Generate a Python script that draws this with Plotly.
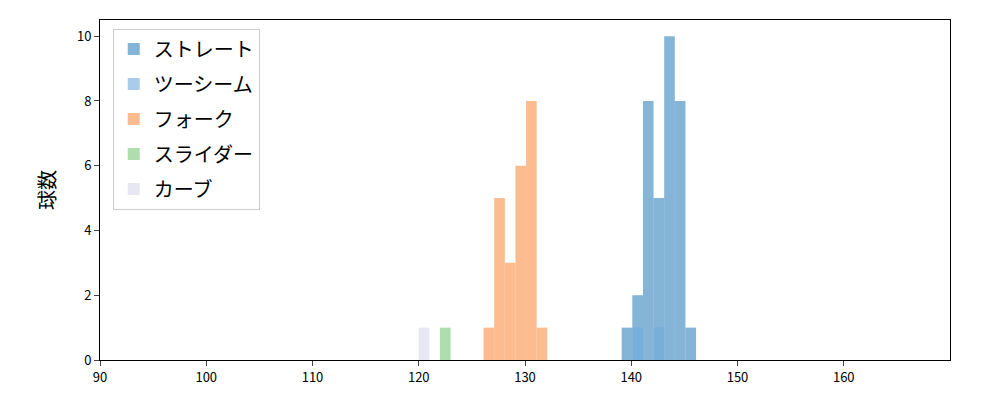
import plotly.graph_objects as go

# bin left edges and counts per pitch type
straight_x = [139.1, 140.1, 141.1, 142.1, 143.1, 144.1, 145.1]
straight_y = [1, 2, 8, 5, 10, 8, 1]
twoseam_x = [140.1, 142.1]
twoseam_y = [1, 1]
fork_x = [126.1, 127.1, 128.1, 129.1, 130.1, 131.1]
fork_y = [1, 5, 3, 6, 8, 1]
slider_x = [122.0]
slider_y = [1]
curve_x = [120.0]
curve_y = [1]

series = [
    ("ストレート", straight_x, straight_y, "rgba(31,119,180,0.55)"),
    ("ツーシーム", twoseam_x, twoseam_y, "rgba(110,170,220,0.6)"),
    ("フォーク", fork_x, fork_y, "rgba(252,160,95,0.7)"),
    ("スライダー", slider_x, slider_y, "rgba(120,200,120,0.6)"),
    ("カーブ", curve_x, curve_y, "rgba(215,215,235,0.6)"),
]

fig = go.Figure()
for name, xs, ys, col in series:
    fig.add_trace(go.Bar(
        x=[v + 0.5 for v in xs], y=ys, width=1.0, name=name, legendgroup=name,
        marker=dict(color=col, line=dict(width=0)),
    ))

fig.update_layout(
    width=1000, height=400,
    barmode="overlay",
    plot_bgcolor="white", paper_bgcolor="white",
    margin=dict(l=92, r=58, t=12, b=48),
    font=dict(family="Noto Sans CJK JP, DejaVu Sans", color="black"),
    legend=dict(
        x=0.015, y=0.975, xanchor="left", yanchor="top",
        bordercolor="#cccccc", borderwidth=1, bgcolor="white",
        font=dict(size=20), traceorder="grouped", tracegroupgap=6,
    ),
    xaxis=dict(
        range=[90, 170], tickvals=[90, 100, 110, 120, 130, 140, 150, 160],
        showgrid=False, zeroline=False, showline=True, linecolor="black",
        mirror=True, ticks="outside", ticklen=5, tickfont=dict(size=13),
    ),
    yaxis=dict(
        range=[0, 10.5], tickvals=[0, 2, 4, 6, 8, 10],
        showgrid=False, zeroline=False, showline=True, linecolor="black",
        mirror=True, ticks="outside", ticklen=5, tickfont=dict(size=13),
        title=dict(text="球数", font=dict(size=20)),
    ),
)

fig.write_html("out.html")
